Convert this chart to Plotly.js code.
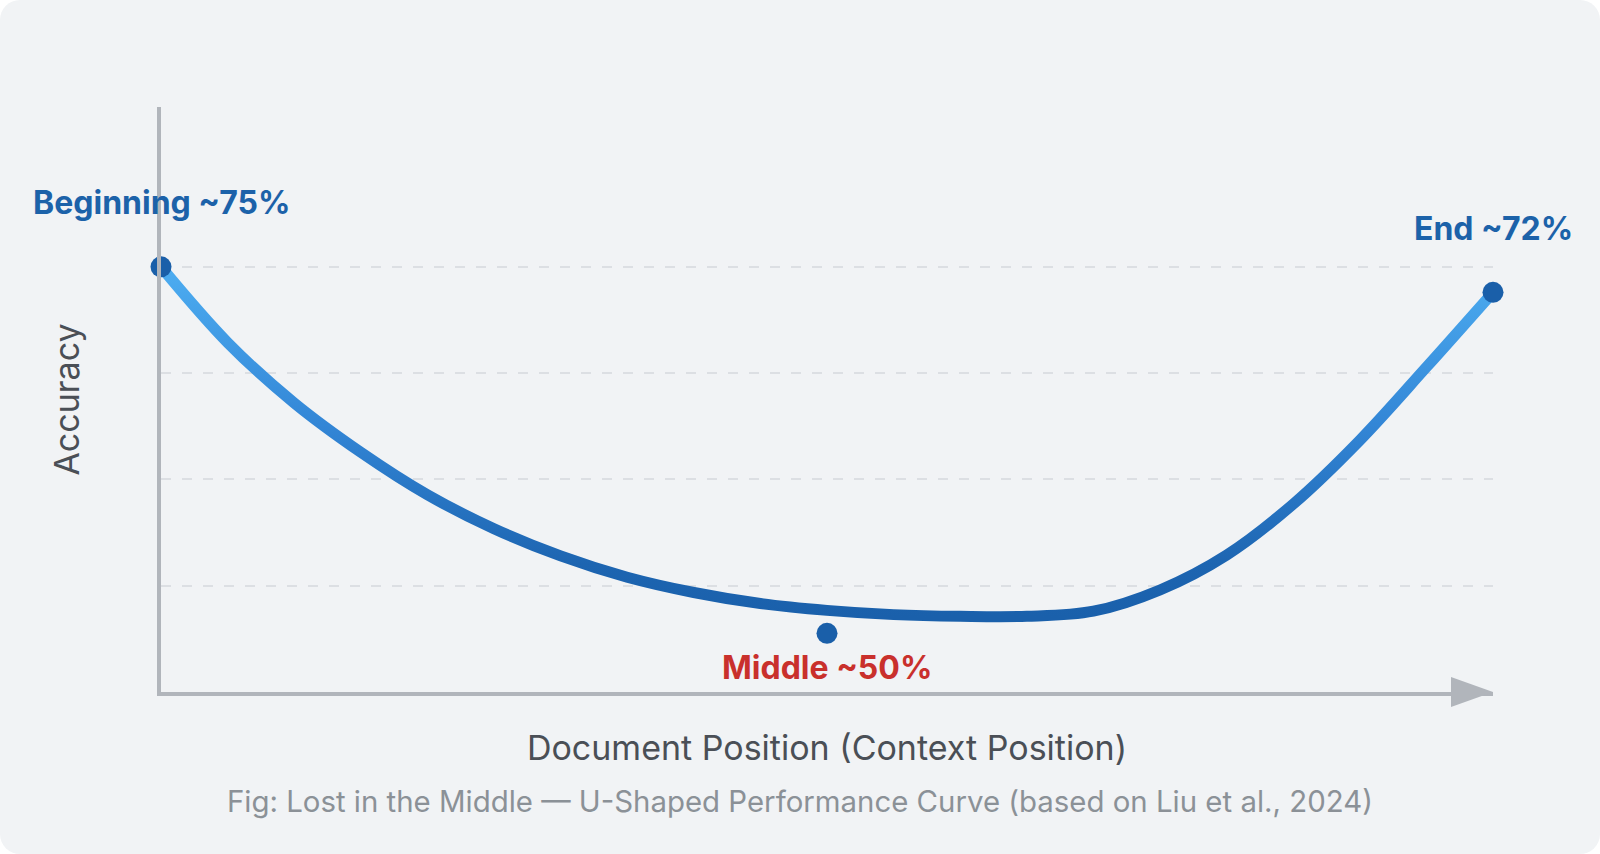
<!DOCTYPE html>
<html>
<head>
<meta charset="utf-8">
<script src="https://cdn.plot.ly/plotly-3.0.1.min.js"></script>
<style>
  html, body { margin: 0; padding: 0; background: #ffffff; }
  #card { width: 1600px; height: 854px; background: #f1f3f5; border-radius: 20px; overflow: hidden; }
  #chart { width: 1600px; height: 854px; }
</style>
</head>
<body>
<div id="card"><div id="chart"></div></div>
<script>
// Curve: accuracy vs. document position
const positions = [0, 5, 10, 15, 20, 25, 30, 35, 40, 45, 50, 55, 60, 65, 70, 75, 80, 85, 90, 95, 100];
const accuracy  = [75, 66.1, 59.0, 53.2, 48.2, 44.2, 41.0, 38.5, 36.7, 35.4, 34.6, 34.1, 33.9, 33.9, 34.5, 37.0, 41.1, 47.1, 54.6, 63.2, 72];

// Key points and their labels
const keyLabels = ['Beginning ~75%', 'Middle ~50%', 'End ~72%'];
const keyX = [0, 50, 100];
const keyY = [75, 31.9, 72];
const keyColors = ['#1c62a9', '#c9302c', '#1c62a9'];
const keyShift = [64, -34, 64];

// Grid levels
const gridLevels = [37.5, 50, 62.5, 75];

const axisGray = '#b1b5bb';
const FONT = 'Inter, "Noto Sans", sans-serif';

const traces = [
  {
    x: positions, y: accuracy, type: 'scatter', mode: 'lines',
    line: { shape: 'spline', smoothing: 1, width: 11, color: '#2d7fd0' },
    cliponaxis: false, hoverinfo: 'skip', showlegend: false
  },
  {
    x: keyX, y: keyY, type: 'scatter', mode: 'markers',
    marker: { size: 21, color: '#1a5fa9' },
    cliponaxis: false, hoverinfo: 'skip', showlegend: false
  }
];

const annotations = keyLabels.map((t, i) => ({
  x: keyX[i], y: keyY[i], xref: 'x', yref: 'y', text: t, showarrow: false,
  xanchor: 'center', yanchor: 'middle', yshift: keyShift[i],
  font: { family: FONT, size: 32, weight: 700, color: keyColors[i] }
}));
annotations.push({
  xref: 'paper', yref: 'paper', x: 0.4801, y: -0.188, xanchor: 'center', yanchor: 'middle',
  showarrow: false,
  text: 'Fig: Lost in the Middle — U-Shaped Performance Curve (based on Liu et al., 2024)',
  font: { family: FONT, size: 29.4, color: '#8b9197' }
});

const layout = {
  width: 1600, height: 854,
  margin: { l: 161, r: 107, t: 107, b: 162 },
  paper_bgcolor: 'rgba(0,0,0,0)', plot_bgcolor: 'rgba(0,0,0,0)',
  showlegend: false,
  xaxis: {
    range: [0, 100], showgrid: false, zeroline: false, showticklabels: false, ticks: '',
    showline: true, linecolor: axisGray, linewidth: 4,
    title: { text: 'Document Position (Context Position)', standoff: 42,
      font: { family: FONT, size: 34, color: '#4a4f56' } }
  },
  yaxis: {
    range: [25, 93.8], tickvals: gridLevels, showticklabels: false, ticks: '',
    showgrid: true, gridcolor: '#dcdfe3', gridwidth: 2, griddash: '10px,11px',
    zeroline: false, showline: true, linecolor: axisGray, linewidth: 4,
    title: { text: 'Accuracy', standoff: 68,
      font: { family: FONT, size: 34, color: '#4a4f56' } }
  },
  shapes: [{
    type: 'path', xref: 'paper', yref: 'paper',
    xsizemode: 'pixel', ysizemode: 'pixel', xanchor: 1, yanchor: 0,
    path: 'M-42,-15 L0,0 L-42,15 Z', fillcolor: axisGray, line: { width: 0 }, layer: 'above'
  }],
  annotations: annotations
};

Plotly.newPlot('chart', traces, layout, { staticPlot: true, displayModeBar: false }).then(() => {
  const svg = document.querySelector('#chart svg.main-svg');
  const ns = 'http://www.w3.org/2000/svg';
  let defs = svg.querySelector('defs');
  if (!defs) { defs = document.createElementNS(ns, 'defs'); svg.insertBefore(defs, svg.firstChild); }
  const grad = document.createElementNS(ns, 'linearGradient');
  grad.setAttribute('id', 'curveGrad');
  grad.setAttribute('x1', '0'); grad.setAttribute('y1', '0');
  grad.setAttribute('x2', '0'); grad.setAttribute('y2', '1');
  [['0', '#4dadf1'], ['0.45', '#3386d6'], ['0.85', '#1d65b1'], ['1', '#1a60ab']].forEach(([o, c]) => {
    const s = document.createElementNS(ns, 'stop');
    s.setAttribute('offset', o); s.setAttribute('stop-color', c);
    grad.appendChild(s);
  });
  defs.appendChild(grad);
  const path = document.querySelector('#chart .scatterlayer .trace path.js-line');
  if (path) { path.style.stroke = 'url(#curveGrad)'; path.style.strokeLinecap = 'round'; }
});
</script>
</body>
</html>
